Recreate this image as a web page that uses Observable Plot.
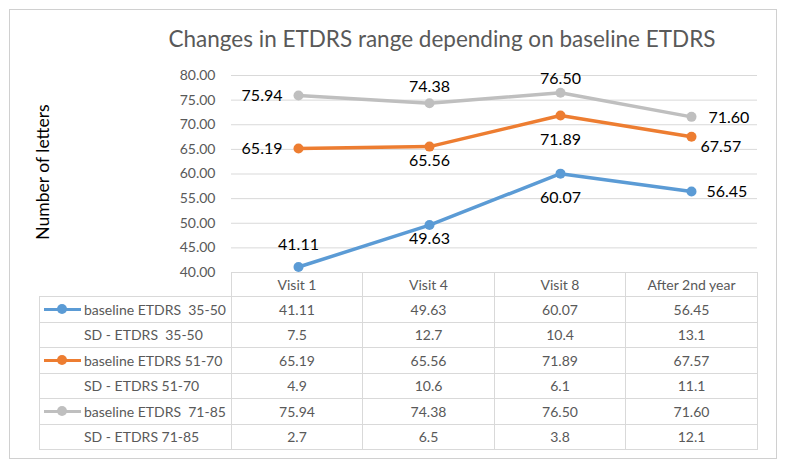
<!DOCTYPE html>
<html>
<head>
<meta charset="utf-8">
<script src="https://cdn.jsdelivr.net/npm/d3@7"></script>
<script src="https://cdn.jsdelivr.net/npm/@observablehq/plot@0.6"></script>
<style>
  html, body { margin: 0; padding: 0; background: #fff; }
  #wrap { position: relative; width: 788px; height: 469px; font-family: Lato, "Open Sans", sans-serif; overflow: hidden; }
  #frame { position: absolute; left: 9px; top: 9px; width: 768px; height: 450px; border: 1px solid #d0d0d0; box-sizing: border-box; }
  #title { position: absolute; left: 0; top: 25px; width: 884px; text-align: center; font-size: 22.5px; color: #595959; white-space: nowrap; }
  #chart { position: absolute; left: 0; top: 60px; }
  #tbl { position: absolute; left: 39px; top: 272px; border-collapse: collapse; font-size: 14px; color: #595959; table-layout: fixed; }
  #tbl td, #tbl th { border: 1px solid #d9d9d9; padding: 0; text-align: center; font-weight: normal; white-space: pre; }
  #tbl td.corner { border-top: none; border-left: none; }
  #tbl tr.head { height: 24px; }
  #tbl tr.row { height: 25.5px; }
  #tbl td.lab { text-align: left; padding-left: 44px; position: relative; }
  .sw { position: absolute; left: 4px; top: 50%; width: 37px; height: 3px; margin-top: -1.5px; }
  .sw::after { content: ""; position: absolute; left: 13px; top: -3.5px; width: 10px; height: 10px; border-radius: 50%; background: inherit; }
</style>
</head>
<body>
<div id="wrap">
  <div id="frame"></div>
  <div id="title">Changes in ETDRS range depending on baseline ETDRS</div>
  <div id="chart"></div>
  <table id="tbl"></table>
</div>
<script>
// ---- data ----
const categories = ["Visit 1", "Visit 4", "Visit 8", "After 2nd year"];
const seriesNames = ["baseline ETDRS  35-50", "baseline ETDRS 51-70", "baseline ETDRS  71-85"];
const sdNames = ["SD - ETDRS  35-50", "SD - ETDRS 51-70", "SD - ETDRS 71-85"];
const meanLow = [41.11, 49.63, 60.07, 56.45];
const sdLow = [7.5, 12.7, 10.4, 13.1];
const meanMid = [65.19, 65.56, 71.89, 67.57];
const sdMid = [4.9, 10.6, 6.1, 11.1];
const meanHigh = [75.94, 74.38, 76.50, 71.60];
const sdHigh = [2.7, 6.5, 3.8, 12.1];
const yTicks = [40, 45, 50, 55, 60, 65, 70, 75, 80];
const yLabel = "Number of letters";

// ---- styling ----
const colors = ["#5B9BD5", "#ED7D31", "#BFBFBF"];
// data-label placement per series & point: [dx, dy, anchor]
const labelPlacement = [
  [[0, -22, "middle"], [0, 14, "middle"], [0, 24, "middle"], [15, 0, "start"]],
  [[-16, 0, "end"], [0, 14, "middle"], [0, 24, "middle"], [9, 10, "start"]],
  [[-16, 0, "end"], [0, -16, "middle"], [0, -14, "middle"], [17, 1, "start"]]
];

const means = [meanLow, meanMid, meanHigh];
const sds = [sdLow, sdMid, sdHigh];
const points = means.flatMap((vals, s) => vals.map((v, i) => ({series: seriesNames[s], si: s, i, cat: categories[i], value: v})));

const fmt2 = d3.format(".2f");
const fmt1 = d3.format(".1f");

const labelMarks = points.map(p => {
  const [dx, dy, anchor] = labelPlacement[p.si][p.i];
  return Plot.text([p], {x: "cat", y: "value", text: d => fmt2(d.value), dx, dy, textAnchor: anchor, fill: "#000", fontSize: 16});
});

const chart = Plot.plot({
  width: 788,
  height: 225,
  marginLeft: 231,
  marginRight: 31,
  marginTop: 15,
  marginBottom: 13,
  style: {fontFamily: "Lato, 'Open Sans', sans-serif", background: "transparent", overflow: "visible"},
  x: {type: "point", domain: categories, padding: 0.5, axis: null},
  y: {domain: [40, 80], ticks: yTicks, tickFormat: fmt2},
  marks: [
    Plot.gridY(yTicks, {stroke: "#d9d9d9", strokeOpacity: 1}),
    Plot.axisY(yTicks, {tickSize: 0, tickPadding: 16, tickFormat: fmt2, fontSize: 14, fill: "#595959", label: null}),
    Plot.text([yLabel], {frameAnchor: "left", textAnchor: "middle", dx: -188, dy: -2, rotate: -90, fontSize: 17.5, fill: "#000"}),
    Plot.line(points, {x: "cat", y: "value", z: "series", stroke: d => colors[d.si], strokeWidth: 3.5, curve: "linear"}),
    Plot.dot(points, {x: "cat", y: "value", fill: d => colors[d.si], r: 5, stroke: "none"}),
    ...labelMarks
  ]
});
document.getElementById("chart").append(chart);

// ---- table ----
const tbl = document.getElementById("tbl");
const colgroup = document.createElement("colgroup");
[192, 131, 132, 131, 132].forEach(w => { const c = document.createElement("col"); c.style.width = w + "px"; colgroup.append(c); });
tbl.append(colgroup);
const head = document.createElement("tr");
head.className = "head";
const corner = document.createElement("td"); corner.className = "corner"; head.append(corner);
categories.forEach(c => { const th = document.createElement("th"); th.textContent = c; head.append(th); });
tbl.append(head);
seriesNames.forEach((name, s) => {
  const tr = document.createElement("tr"); tr.className = "row";
  const lab = document.createElement("td"); lab.className = "lab";
  const sw = document.createElement("span"); sw.className = "sw"; sw.style.background = colors[s];
  lab.append(sw, document.createTextNode(name));
  tr.append(lab);
  means[s].forEach(v => { const td = document.createElement("td"); td.textContent = fmt2(v); tr.append(td); });
  tbl.append(tr);
  const tr2 = document.createElement("tr"); tr2.className = "row";
  const lab2 = document.createElement("td"); lab2.className = "lab"; lab2.textContent = sdNames[s];
  tr2.append(lab2);
  sds[s].forEach(v => { const td = document.createElement("td"); td.textContent = fmt1(v); tr2.append(td); });
  tbl.append(tr2);
});
</script>
</body>
</html>
